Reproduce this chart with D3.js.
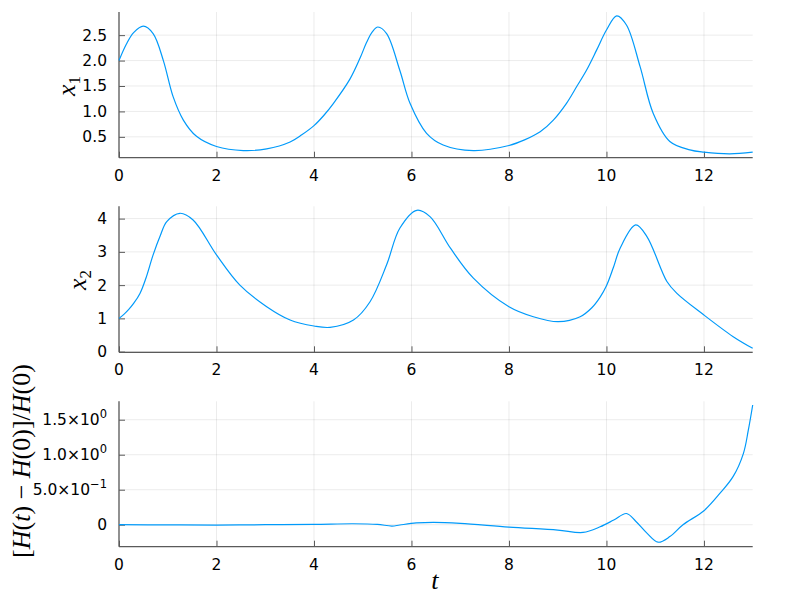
<!DOCTYPE html>
<html>
<head>
<meta charset="utf-8">
<script src="https://cdn.jsdelivr.net/npm/d3@7"></script>
<style>
  html, body { margin: 0; padding: 0; background: #fff; }
  svg { display: block; }
  .tick-label { font-family: "DejaVu Sans", sans-serif; font-size: 15.5px; fill: #000; }
  .math { font-family: "Liberation Serif", "DejaVu Serif", serif; font-style: italic; font-size: 26px; fill: #000; }
</style>
</head>
<body>
<svg id="chart" width="800" height="600"></svg>
<script>
// ---------------- data ----------------
const t1 = [0, 0.15, 0.3, 0.5, 0.7, 0.91, 1.11, 1.32, 1.59, 2.0, 2.55, 3.03, 3.51, 3.75, 4.0, 4.2, 4.4, 4.74, 4.95, 5.08, 5.2, 5.31, 5.49, 5.76, 5.97, 6.31, 6.65, 7.27, 8.0, 8.32, 8.64, 8.91, 9.18, 9.39, 9.59, 9.80, 10.0, 10.21, 10.41, 10.69, 10.96, 11.3, 11.71, 12.0, 12.53, 13.0];
const x1 = [2.0, 2.32, 2.55, 2.676, 2.53, 2.0, 1.29, 0.83, 0.51, 0.31, 0.23, 0.265, 0.40, 0.54, 0.72, 0.92, 1.16, 1.64, 2.06, 2.36, 2.57, 2.66, 2.53, 1.81, 1.16, 0.57, 0.34, 0.23, 0.33, 0.44, 0.60, 0.83, 1.16, 1.49, 1.81, 2.21, 2.60, 2.88, 2.70, 1.88, 0.96, 0.41, 0.245, 0.20, 0.167, 0.20];

const t2 = [0, 0.1, 0.2, 0.3, 0.43, 0.55, 0.70, 0.85, 0.98, 1.25, 1.52, 2.0, 2.48, 3.03, 3.51, 4.0, 4.33, 4.81, 5.15, 5.49, 5.76, 6.11, 6.38, 6.8, 7.27, 8.0, 8.5, 9.01, 9.46, 9.7, 9.87, 10.0, 10.14, 10.28, 10.6, 10.83, 11.24, 11.44, 12.0, 12.6, 13.0];
const x2 = [1.0, 1.12, 1.27, 1.45, 1.75, 2.2, 2.91, 3.5, 3.91, 4.16, 3.96, 2.91, 2.0, 1.35, 0.95, 0.77, 0.73, 0.95, 1.50, 2.61, 3.71, 4.25, 4.06, 3.11, 2.21, 1.35, 1.05, 0.90, 1.05, 1.32, 1.64, 1.98, 2.52, 3.11, 3.81, 3.46, 2.11, 1.76, 1.10, 0.45, 0.10];

const t3 = [0, 1, 2, 3, 4, 4.8, 5.3, 5.6, 5.76, 6.1, 6.45, 7.0, 8.0, 9.0, 9.52, 9.87, 10.15, 10.41, 10.6, 10.83, 11.06, 11.3, 11.57, 12.0, 12.33, 12.6, 12.81, 12.91, 13.0];
const hErr = [0, -0.002, -0.005, 0.0, 0.005, 0.014, 0.005, -0.019, -0.004, 0.025, 0.034, 0.02, -0.033, -0.076, -0.11, -0.03, 0.067, 0.16, 0.05, -0.12, -0.25, -0.17, 0.0, 0.20, 0.45, 0.69, 1.02, 1.35, 1.71];

const xTicks = [0, 2, 4, 6, 8, 10, 12];
const xTickLabels = ["0", "2", "4", "6", "8", "10", "12"];
const y1Ticks = [0.5, 1.0, 1.5, 2.0, 2.5];
const y1TickLabels = ["0.5", "1.0", "1.5", "2.0", "2.5"];
const y2Ticks = [0, 1, 2, 3, 4];
const y2TickLabels = ["0", "1", "2", "3", "4"];
const y3Ticks = [0, 0.5, 1.0, 1.5];
const y3TickLabels = [["0", null], ["5.0×10", "−1"], ["1.0×10", "0"], ["1.5×10", "0"]];

// ---------------- layout ----------------
const svg = d3.select("#chart");
const left = 119, right = 752.7;
const lineColor = "#009AFA";
const axisColor = "#5a5a5a";

const x = d3.scaleLinear().domain([0, 13]).range([left, right]);

const panels = [
  { t: t1, v: x1, top: 12, bottom: 157.7, dom: [0.09, 2.955], ticks: y1Ticks, labels: y1TickLabels },
  { t: t2, v: x2, top: 206.3, bottom: 352.3, dom: [-0.02, 4.37], ticks: y2Ticks, labels: y2TickLabels },
  { t: t3, v: hErr, top: 401.3, bottom: 546.7, dom: [-0.314, 1.763], ticks: y3Ticks, labels: y3TickLabels }
];

panels.forEach((p, i) => {
  const y = d3.scaleLinear().domain(p.dom).range([p.bottom, p.top]);
  const g = svg.append("g");

  // grid
  g.selectAll(".vgrid").data(xTicks).join("line")
    .attr("x1", d => x(d)).attr("x2", d => x(d))
    .attr("y1", p.top).attr("y2", p.bottom)
    .attr("stroke", "#000").attr("stroke-opacity", 0.08).attr("stroke-width", 1);
  g.selectAll(".hgrid").data(p.ticks).join("line")
    .attr("x1", left).attr("x2", right)
    .attr("y1", d => y(d)).attr("y2", d => y(d))
    .attr("stroke", "#000").attr("stroke-opacity", 0.08).attr("stroke-width", 1);

  // axes via d3 axis generators (ticks pointing inward)
  const yAxis = d3.axisLeft(y).tickValues(p.ticks).tickSize(-6).tickFormat("");
  const ya = g.append("g").attr("transform", `translate(${left},0)`).call(yAxis);
  ya.select(".domain").attr("stroke", axisColor).attr("stroke-width", 1.3)
    .attr("d", `M0,${p.top}V${p.bottom}`);
  ya.selectAll(".tick line").attr("stroke", axisColor).attr("stroke-width", 1);

  const xAxis = d3.axisBottom(x).tickValues(xTicks).tickSize(-6).tickFormat("");
  const xa = g.append("g").attr("transform", `translate(0,${p.bottom})`).call(xAxis);
  xa.select(".domain").attr("stroke", axisColor).attr("stroke-width", 1.3)
    .attr("d", `M${left},0H${right}`);
  xa.selectAll(".tick line").attr("stroke", axisColor).attr("stroke-width", 1);

  // x tick labels
  g.selectAll(".xl").data(xTicks).join("text")
    .attr("class", "tick-label")
    .attr("x", d => x(d)).attr("y", p.bottom + 23)
    .attr("text-anchor", "middle")
    .text((d, k) => xTickLabels[k]);

  // y tick labels
  const yl = g.selectAll(".yl").data(p.ticks).join("text")
    .attr("class", "tick-label")
    .attr("x", left - 12).attr("y", d => y(d) + 5.5)
    .attr("text-anchor", "end");
  if (i < 2) {
    yl.text((d, k) => p.labels[k]);
  } else {
    yl.each(function(d, k) {
      const [base, sup] = p.labels[k];
      const el = d3.select(this);
      el.append("tspan").text(base);
      if (sup) {
        el.append("tspan").attr("dy", -7).attr("font-size", "11.5px").text(sup);
      }
    });
  }

  // data line
  const line = d3.line()
    .x((d, k) => x(p.t[k]))
    .y(d => y(d))
    .curve(d3.curveCatmullRom.alpha(0.5));
  g.append("path").datum(p.v)
    .attr("fill", "none").attr("stroke", lineColor).attr("stroke-width", 1.2)
    .attr("d", line);
});

// ---------------- axis titles ----------------
function rotLabel(cx, cy, parts) {
  const t = svg.append("text").attr("class", "math")
    .attr("transform", `translate(${cx},${cy}) rotate(-90)`)
    .attr("text-anchor", "middle");
  parts.forEach(p => {
    const s = t.append("tspan").text(p.text);
    if (p.sub) s.attr("font-style", "normal").attr("font-size", "17px").attr("dy", 5);
    if (p.upright) s.attr("font-style", "normal");
  });
  return t;
}
rotLabel(75, 86, [{ text: "x" }, { text: "1", sub: true }]);
rotLabel(86, 280, [{ text: "x" }, { text: "2", sub: true }]);
rotLabel(30, 461, [
  { text: "[", upright: true }, { text: "H" }, { text: "(", upright: true }, { text: "t" },
  { text: ")\u2005\u2212\u2005", upright: true }, { text: "H" }, { text: "(0)]/", upright: true },
  { text: "H" }, { text: "(0)", upright: true }
]);

svg.append("text").attr("class", "math")
  .attr("x", x(6.5) - 1).attr("y", 589)
  .attr("text-anchor", "middle")
  .text("t");
</script>
</body>
</html>
